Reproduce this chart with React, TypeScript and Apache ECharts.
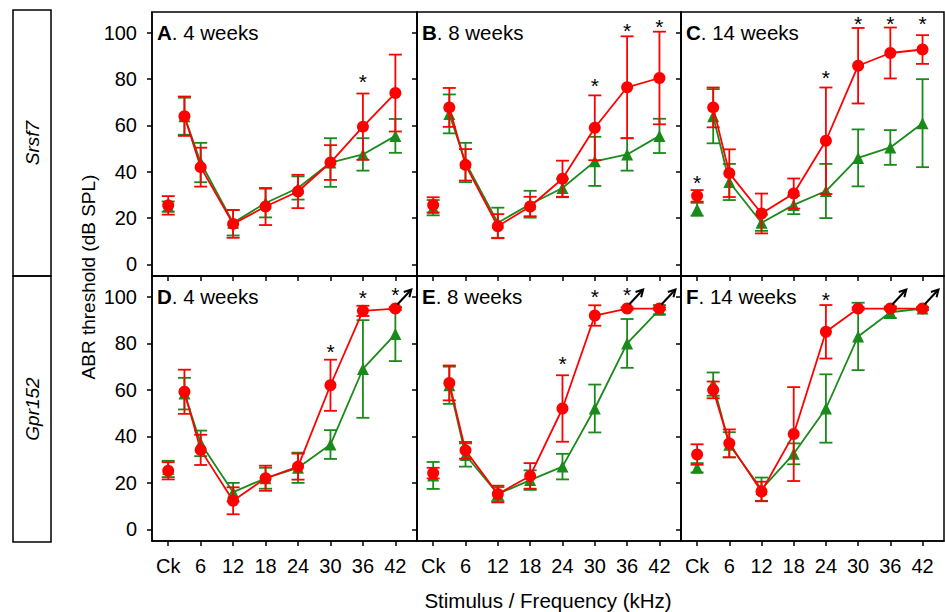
import React, { useEffect, useRef } from "react";
import * as echarts from "echarts";

// ---------- data ----------
const xTickValues = [0, 6, 12, 18, 24, 30, 36, 42];
const xTickLabels = ["Ck", "6", "12", "18", "24", "30", "36", "42"];
const yTickValues = [0, 20, 40, 60, 80, 100];
// Ck (click) followed by tone frequencies in kHz
const pointX = [0, 3, 6, 12, 18, 24, 30, 36, 42];

const panelLetters = ["A", "B", "C", "D", "E", "F"];
const panelAges = ["4 weeks", "8 weeks", "14 weeks", "4 weeks", "8 weeks", "14 weeks"];
const rowGenes = ["Srsf7", "Gpr152"];
const yAxisTitle = "ABR threshold (dB SPL)";
const xAxisTitle = "Stimulus / Frequency (kHz)";

// Panel A – Srsf7, 4 weeks
const aRed = [25.5, 64, 42, 17.5, 25, 31.5, 44, 59.5, 74];
const aRedErr = [4, 8.5, 8.4, 6, 8, 7.2, 7.5, 14.3, 16.6];
const aGreen = [25, 64, 44, 18, 26.5, 33, 44, 47.5, 55.5];
const aGreenErr = [2.2, 8, 8.5, 5.5, 6.2, 5, 10.5, 7, 7.3];
const aStarX = [36];
const aStarY = [81];
const aArrowX: number[] = [];

// Panel B – Srsf7, 8 weeks
const bRed = [25.7, 67.8, 43, 16.5, 25, 37, 59, 76.5, 80.5];
const bRedErr = [3.3, 8.4, 6.8, 5.2, 4.2, 7.8, 14, 22, 20];
const bGreen = [24.5, 65, 44, 18, 26, 33, 44.5, 47.5, 55.5];
const bGreenErr = [3.3, 8.4, 8.5, 6.5, 5.8, 4, 10.6, 7, 7.4];
const bStarX = [30, 36, 42];
const bStarY = [79.5, 103, 105];
const bArrowX: number[] = [];

// Panel C – Srsf7, 14 weeks
const cRed = [29.6, 67.8, 39.4, 22, 30.6, 53.4, 85.8, 91.3, 92.8];
const cRedErr = [2.5, 8.6, 10.3, 8.6, 6.5, 23, 16.3, 11, 6.2];
const cGreen = [23.8, 64, 35.6, 18, 25.7, 31.7, 46, 50.5, 61];
const cGreenErr = [2.8, 11.7, 7.8, 3.5, 4, 11.7, 12.3, 7.5, 19];
const cStarX = [0, 24, 30, 36, 42];
const cStarY = [37.5, 83, 106, 106, 106];
const cArrowX: number[] = [];

// Panel D – Gpr152, 4 weeks
const dRed = [25.2, 59.2, 34.2, 12.3, 22, 27, 62, 94, 95];
const dRedErr = [3.7, 9.5, 6.5, 5.8, 5.4, 5.6, 11, 2.2, 0.5];
const dGreen = [26, 58.4, 37, 16, 22, 26.5, 36.5, 69, 84];
const dGreenErr = [3.5, 6.8, 5.5, 4, 4.5, 6.5, 6.2, 21, 11.6];
const dStarX = [30, 36, 42];
const dStarY = [78.5, 102, 103];
const dArrowX = [42];

// Panel E – Gpr152, 8 weeks
const eRed = [24.2, 63, 34, 15.2, 23, 52, 92, 95, 95];
const eRedErr = [2.3, 7.5, 3.6, 3.6, 5.5, 14.3, 4.4, 0.5, 0.5];
const eGreen = [23.2, 62, 32, 15.2, 21.2, 27, 52, 80, 94.5];
const eGreenErr = [5.8, 8, 5, 3, 4.2, 5.5, 10.3, 10.5, 2];
const eStarX = [24, 30, 36];
const eStarY = [73.5, 102.5, 103];
const eArrowX = [36, 42];

// Panel F – Gpr152, 14 weeks
const fRed = [32.2, 60, 37, 16.3, 41, 85, 95, 95, 95];
const fRedErr = [4.4, 3.6, 6, 4.2, 20.2, 11.5, 0.5, 0.5, 0.5];
const fGreen = [26.5, 62.5, 36.4, 17.3, 32.5, 52, 83, 93.4, 95];
const fGreenErr = [2, 5, 5.4, 5, 4.5, 14.7, 14.5, 2.5, 0.5];
const fStarX = [24];
const fStarY = [101];
const fArrowX = [36, 42];

// ---------- styling / layout ----------
const RED = "#ff0000";
const GREEN = "#1a8a1a";
const FONT = "'Liberation Sans', Arial, sans-serif";

const layout = [
  { l: 152, t: 12, w: 265, h: 264 },
  { l: 417, t: 12, w: 264, h: 264 },
  { l: 681, t: 12, w: 263, h: 264 },
  { l: 152, t: 276, w: 265, h: 265 },
  { l: 417, t: 276, w: 264, h: 265 },
  { l: 681, t: 276, w: 263, h: 265 },
];

const panels = [
  { red: aRed, redErr: aRedErr, green: aGreen, greenErr: aGreenErr, starX: aStarX, starY: aStarY, arrowX: aArrowX },
  { red: bRed, redErr: bRedErr, green: bGreen, greenErr: bGreenErr, starX: bStarX, starY: bStarY, arrowX: bArrowX },
  { red: cRed, redErr: cRedErr, green: cGreen, greenErr: cGreenErr, starX: cStarX, starY: cStarY, arrowX: cArrowX },
  { red: dRed, redErr: dRedErr, green: dGreen, greenErr: dGreenErr, starX: dStarX, starY: dStarY, arrowX: dArrowX },
  { red: eRed, redErr: eRedErr, green: eGreen, greenErr: eGreenErr, starX: eStarX, starY: eStarY, arrowX: eArrowX },
  { red: fRed, redErr: fRedErr, green: fGreen, greenErr: fGreenErr, starX: fStarX, starY: fStarY, arrowX: fArrowX },
];

function errorBars(idx: number, means: number[], errs: number[], color: string, z: number) {
  return {
    type: "custom",
    xAxisIndex: idx,
    yAxisIndex: idx,
    z,
    silent: true,
    data: means.map((m, i) => [pointX[i], m - errs[i], m + errs[i]]),
    encode: { x: 0, y: [1, 2] },
    renderItem: (_p: any, api: any) => {
      const x = api.value(0);
      const lo = api.coord([x, api.value(1)]);
      const hi = api.coord([x, api.value(2)]);
      const hw = 6.5;
      const style = { stroke: color, lineWidth: 1.8 };
      return {
        type: "group",
        children: [
          { type: "line", shape: { x1: lo[0], y1: lo[1], x2: hi[0], y2: hi[1] }, style },
          { type: "line", shape: { x1: lo[0] - hw, y1: lo[1], x2: lo[0] + hw, y2: lo[1] }, style },
          { type: "line", shape: { x1: hi[0] - hw, y1: hi[1], x2: hi[0] + hw, y2: hi[1] }, style },
        ],
      };
    },
  };
}

function meanLine(idx: number, means: number[], color: string, symbol: string, size: number, z: number) {
  return [
    {
      type: "line",
      xAxisIndex: idx,
      yAxisIndex: idx,
      z,
      silent: true,
      data: pointX.slice(1).map((x, i) => [x, means[i + 1]]),
      symbol,
      symbolSize: size,
      showAllSymbol: true,
      lineStyle: { color, width: 1.8 },
      itemStyle: { color, opacity: 1 },
    },
    {
      type: "scatter",
      xAxisIndex: idx,
      yAxisIndex: idx,
      z,
      silent: true,
      data: [[pointX[0], means[0]]],
      symbol,
      symbolSize: size,
      itemStyle: { color, opacity: 1 },
    },
  ];
}

function stars(idx: number, xs: number[], ys: number[]) {
  return {
    type: "custom",
    xAxisIndex: idx,
    yAxisIndex: idx,
    z: 10,
    silent: true,
    data: xs.map((x, i) => [x, ys[i]]),
    renderItem: (_p: any, api: any) => {
      const pt = api.coord([api.value(0), api.value(1)]);
      return {
        type: "text",
        x: pt[0],
        y: pt[1] + 5,
        style: { text: "*", fontSize: 21, fontFamily: FONT, fill: "#000", align: "center", verticalAlign: "middle" },
      };
    },
  };
}

function arrows(idx: number, xs: number[], ys: number[]) {
  return {
    type: "custom",
    xAxisIndex: idx,
    yAxisIndex: idx,
    z: 10,
    silent: true,
    data: xs.map((x) => [x, ys[pointX.indexOf(x)]]),
    renderItem: (_p: any, api: any) => {
      const pt = api.coord([api.value(0), api.value(1)]);
      const sx = pt[0] + 2, sy = pt[1] - 4;
      const ex = pt[0] + 16, ey = pt[1] - 19;
      const dx = ex - sx, dy = ey - sy;
      const len = Math.hypot(dx, dy);
      const ux = dx / len, uy = dy / len;
      const hl = 8, a = 0.5;
      const b1x = ex - hl * (ux * Math.cos(a) - uy * Math.sin(a));
      const b1y = ey - hl * (ux * Math.sin(a) + uy * Math.cos(a));
      const b2x = ex - hl * (ux * Math.cos(-a) - uy * Math.sin(-a));
      const b2y = ey - hl * (ux * Math.sin(-a) + uy * Math.cos(-a));
      const style = { stroke: "#000", lineWidth: 2, fill: null };
      return {
        type: "group",
        children: [
          { type: "line", shape: { x1: sx, y1: sy, x2: ex, y2: ey }, style },
          { type: "polyline", shape: { points: [[b1x, b1y], [ex, ey], [b2x, b2y]] }, style },
        ],
      };
    },
  };
}

export default function App() {
  const ref = useRef<HTMLDivElement>(null);
  useEffect(() => {
    if (!ref.current) return;
    const chart = echarts.init(ref.current, null, { renderer: "svg" });

    const grid = layout.map((g) => ({
      left: g.l,
      top: g.t,
      width: g.w,
      height: g.h,
      show: true,
      borderColor: "#000",
      borderWidth: 1.5,
      backgroundColor: "transparent",
      containLabel: false,
      outerBoundsMode: "none",
    }));

    const xAxis = layout.map((_g, i) => ({
      type: "value",
      gridIndex: i,
      min: -3,
      max: 46,
      axisLine: { show: true, onZero: false, lineStyle: { color: "#000", width: 1.5 } },
      axisTick: { show: true, length: 5, inside: false, customValues: xTickValues, lineStyle: { color: "#000", width: 1.5 } },
      axisLabel: {
        show: i >= 3,
        customValues: xTickValues,
        formatter: (v: number) => {
          const k = xTickValues.indexOf(v);
          return k >= 0 ? xTickLabels[k] : "";
        },
        fontSize: 20,
        fontFamily: FONT,
        color: "#000",
        margin: 15,
      },
      splitLine: { show: false },
    }));

    const yAxis = layout.map((_g, i) => ({
      type: "value",
      gridIndex: i,
      min: -5,
      max: 109,
      axisLine: { show: true, onZero: false, lineStyle: { color: "#000", width: 1.5 } },
      axisTick: { show: true, length: 5, inside: false, customValues: yTickValues, lineStyle: { color: "#000", width: 1.5 } },
      axisLabel: {
        show: i % 3 === 0,
        customValues: yTickValues,
        fontSize: 20,
        fontFamily: FONT,
        color: "#000",
        margin: 15,
      },
      splitLine: { show: false },
    }));

    const series: any[] = [];
    panels.forEach((p, i) => {
      series.push(errorBars(i, p.green, p.greenErr, GREEN, 2));
      series.push(...meanLine(i, p.green, GREEN, "triangle", 12, 3));
      series.push(errorBars(i, p.red, p.redErr, RED, 4));
      series.push(...meanLine(i, p.red, RED, "circle", 12, 5));
      if (p.starX.length) series.push(stars(i, p.starX, p.starY));
      if (p.arrowX.length) series.push(arrows(i, p.arrowX, p.red));
    });

    const title = layout.map((g, i) => ({
      text: `{b|${panelLetters[i]}}. ${panelAges[i]}`,
      left: g.l + 5,
      top: g.t + 10,
      padding: 0,
      textStyle: {
        fontSize: 20.5,
        fontWeight: "normal",
        fontFamily: FONT,
        color: "#000",
        rich: { b: { fontSize: 20.5, fontWeight: "bold", fontFamily: FONT, color: "#000" } },
      },
    }));

    const graphic = [
      { type: "rect", shape: { x: 13, y: 10, width: 38, height: 266 }, style: { fill: "none", stroke: "#000", lineWidth: 1.5 } },
      { type: "rect", shape: { x: 13, y: 276, width: 38, height: 266 }, style: { fill: "none", stroke: "#000", lineWidth: 1.5 } },
      {
        type: "text", x: 32, y: 143, rotation: Math.PI / 2,
        style: { text: rowGenes[0], fontSize: 19, fontStyle: "italic", fontFamily: FONT, fill: "#000", align: "center", verticalAlign: "middle" },
      },
      {
        type: "text", x: 32, y: 409, rotation: Math.PI / 2,
        style: { text: rowGenes[1], fontSize: 19, fontStyle: "italic", fontFamily: FONT, fill: "#000", align: "center", verticalAlign: "middle" },
      },
      {
        type: "text", x: 88, y: 277, rotation: Math.PI / 2,
        style: { text: yAxisTitle, fontSize: 19, fontFamily: FONT, fill: "#000", align: "center", verticalAlign: "middle" },
      },
      {
        type: "text", x: 548, y: 600,
        style: { text: xAxisTitle, fontSize: 20.5, fontFamily: FONT, fill: "#000", align: "center", verticalAlign: "middle" },
      },
    ];

    chart.setOption({
      animation: false,
      backgroundColor: "#fff",
      title,
      grid,
      xAxis,
      yAxis,
      series,
      graphic,
    });
    return () => chart.dispose();
  }, []);

  return (
    <div
      ref={ref}
      style={{ position: "absolute", left: 0, top: 0, width: 945, height: 612 }}
    />
  );
}
